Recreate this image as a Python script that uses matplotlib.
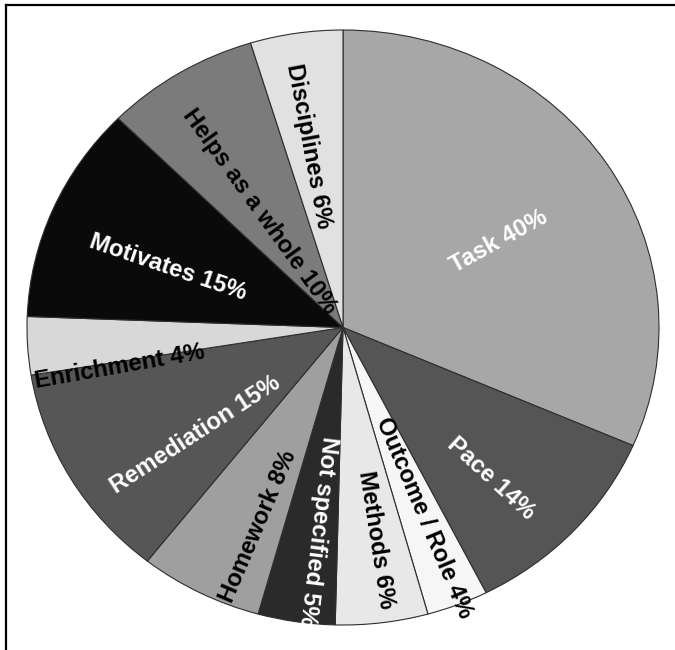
import numpy as np
import matplotlib
matplotlib.use("Agg")
import matplotlib.pyplot as plt
from matplotlib.lines import Line2D

# share of responses per category, clockwise from 12 o'clock
categories = ["Task", "Pace", "Outcome / Role", "Methods", "Not specified",
              "Homework", "Remediation", "Enrichment", "Motivates",
              "Helps as a whole", "Disciplines"]
percents = [40, 14, 4, 6, 5, 8, 15, 4, 15, 10, 6]

# grey shade of each wedge and the colour of its label
wedge_colors = ["#a7a7a7", "#555555", "#f6f6f6", "#e8e8e8", "#2a2a2a",
                "#9f9f9f", "#565656", "#d8d8d8", "#0a0a0a", "#7b7b7b", "#e1e1e1"]
text_colors = ["white", "white", "black", "black", "white",
               "black", "white", "black", "white", "black", "black"]

# label placement: distance from centre, angular nudge and extra tilt (deg)
label_r = [0.57, 0.69, 0.69, 0.72, 0.69, 0.72, 0.59, 0.72, 0.59, 0.47, 0.62]
label_nudge = [-3, -4, 0.5, 1.2, 2, 5, 7.2, 7, 3.5, 3, 1.5]
label_tilt = [0, 3, 0, 0, 0, 0, -3, 0, 0, 0, 0]

plt.rcParams["font.family"] = ["Liberation Sans", "DejaVu Sans"]

fig = plt.figure(figsize=(6.75, 6.5), dpi=100)
fig.patch.set_facecolor("white")
ax = fig.add_axes([27 / 675, 25 / 650, 632 / 675, 595 / 650])

wedges, _ = ax.pie(percents, colors=wedge_colors, startangle=90,
                   counterclock=False, radius=1.0,
                   wedgeprops=dict(edgecolor="#2e2e2e", linewidth=0.8))
ax.set_aspect("auto")
ax.set_xlim(-1, 1)
ax.set_ylim(-1, 1)
ax.axis("off")

# axes size in pixels, used to turn data angles into on-screen text angles
ax_w = 632.0
ax_h = 595.0

for w, name, pct, tc, r, nudge, tilt in zip(wedges, categories, percents,
                                            text_colors, label_r, label_nudge,
                                            label_tilt):
    mid = (w.theta1 + w.theta2) / 2.0 + nudge
    mid = (mid + 180) % 360 - 180
    t = np.deg2rad(mid)
    x, y = r * np.cos(t), r * np.sin(t)
    rot = np.rad2deg(np.arctan2(ax_h * np.sin(t), ax_w * np.cos(t)))
    if not (-100 < mid <= 90):
        rot += 180
    rot = (rot + 180) % 360 - 180 + tilt
    ax.text(x, y, f"{name} {pct}%", color=tc, fontsize=17.2,
            fontweight="bold", ha="center", va="center",
            rotation=rot, rotation_mode="anchor")

# frame lines along the top and left of the image
fig.add_artist(Line2D([6 / 675, 1.0], [1 - 5 / 650, 1 - 5 / 650],
                      transform=fig.transFigure, color="black", linewidth=1.6))
fig.add_artist(Line2D([6 / 675, 6 / 675], [0.0, 1 - 5 / 650],
                      transform=fig.transFigure, color="black", linewidth=1.6))

fig.savefig("out.png", dpi=100, facecolor="white")
